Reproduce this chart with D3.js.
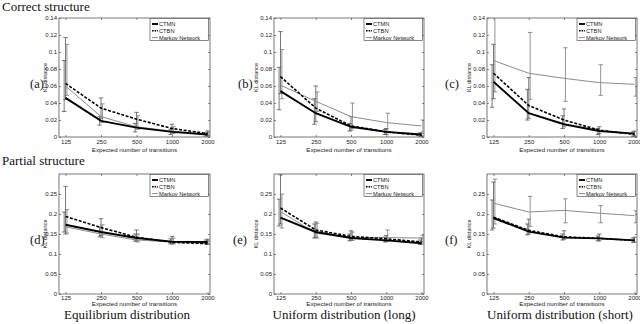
<!DOCTYPE html>
<html>
<head>
  <meta charset="utf-8">
  <title>KL distance vs expected number of transitions</title>
  <style>
  body { margin: 0; background: #fff; }
  .tick text { font-family: "Liberation Sans", Arial, sans-serif; font-size: 6px; fill: #222; }
  .tick line { stroke: #555; stroke-width: 0.7; }
  .serif { font-family: "Liberation Serif", "Times New Roman", serif; fill: #111; }
  .sans { font-family: "Liberation Sans", Arial, sans-serif; fill: #222; }
  </style>
</head>
<body>
<script src="https://cdnjs.cloudflare.com/ajax/libs/d3/7.8.5/d3.min.js"></script>
<script>
// x values and labels
var transitions = [125, 250, 500, 1000, 2000];
var seriesNames = ["CTMN", "CTBN", "Markov Network"];
var topYTicks = [0, 0.02, 0.04, 0.06, 0.08, 0.1, 0.12, 0.14];
var bottomYTicks = [0, 0.05, 0.1, 0.15, 0.2, 0.25];
var rowTitles = ["Correct structure", "Partial structure"];
var columnTitles = ["Equilibrium distribution", "Uniform distribution (long)", "Uniform distribution (short)"];

// (a) correct structure, equilibrium
var ctmnA = [0.046, 0.019, 0.011, 0.006, 0.003];
var ctbnA = [0.063, 0.034, 0.021, 0.010, 0.004];
var mnA   = [0.060, 0.024, 0.012, 0.007, 0.003];
var ctmnErrA = [[0.030, 0.090], [0.014, 0.024], [0.006, 0.016], [0.003, 0.009], [0.001, 0.005]];
var ctbnErrA = [[0.044, 0.117], [0.022, 0.046], [0.012, 0.029], [0.006, 0.015], [0.002, 0.007]];
var mnErrA   = [[0.049, 0.109], [0.017, 0.039], [0.009, 0.025], [0.004, 0.012], [0.001, 0.006]];

// (b) correct structure, uniform long
var ctmnB = [0.054, 0.028, 0.012, 0.006, 0.003];
var ctbnB = [0.071, 0.034, 0.013, 0.006, 0.002];
var mnB   = [0.061, 0.042, 0.024, 0.017, 0.013];
var ctmnErrB = [[0.032, 0.082], [0.015, 0.045], [0.007, 0.016], [0.003, 0.009], [0.001, 0.005]];
var ctbnErrB = [[0.051, 0.124], [0.018, 0.060], [0.008, 0.024], [0.003, 0.010], [0.001, 0.004]];
var mnErrB   = [[0.045, 0.103], [0.030, 0.053], [0.010, 0.040], [0.005, 0.028], [0.006, 0.020]];

// (c) correct structure, uniform short
var ctmnC = [0.065, 0.028, 0.015, 0.007, 0.004];
var ctbnC = [0.075, 0.037, 0.020, 0.008, 0.003];
var mnC   = [0.090, 0.075, 0.069, 0.064, 0.062];
var ctmnErrC = [[0.035, 0.085], [0.020, 0.056], [0.010, 0.025], [0.003, 0.010], [0.001, 0.006]];
var ctbnErrC = [[0.045, 0.109], [0.022, 0.070], [0.012, 0.033], [0.004, 0.012], [0.001, 0.007]];
var mnErrC   = [[0.053, 0.160], [0.044, 0.123], [0.042, 0.105], [0.049, 0.085], [0.048, 0.070]];

// (d) partial structure, equilibrium
var ctmnD = [0.173, 0.155, 0.140, 0.131, 0.130];
var ctbnD = [0.194, 0.166, 0.142, 0.129, 0.126];
var mnD   = [0.168, 0.150, 0.135, 0.130, 0.127];
var ctmnErrD = [[0.155, 0.205], [0.143, 0.168], [0.132, 0.150], [0.125, 0.138], [0.125, 0.135]];
var ctbnErrD = [[0.150, 0.269], [0.146, 0.188], [0.133, 0.160], [0.126, 0.144], [0.124, 0.137]];
var mnErrD   = [[0.152, 0.211], [0.141, 0.173], [0.130, 0.150], [0.125, 0.140], [0.124, 0.133]];

// (e) partial structure, uniform long
var ctmnE = [0.191, 0.155, 0.140, 0.134, 0.127];
var ctbnE = [0.215, 0.160, 0.144, 0.138, 0.130];
var mnE   = [0.206, 0.152, 0.141, 0.141, 0.140];
var ctmnErrE = [[0.170, 0.237], [0.140, 0.175], [0.133, 0.150], [0.130, 0.142], [0.124, 0.135]];
var ctbnErrE = [[0.175, 0.298], [0.142, 0.180], [0.135, 0.158], [0.131, 0.146], [0.125, 0.140]];
var mnErrE   = [[0.165, 0.250], [0.140, 0.177], [0.134, 0.155], [0.133, 0.160], [0.130, 0.146]];

// (f) partial structure, uniform short
var ctmnF = [0.190, 0.156, 0.141, 0.139, 0.134];
var ctbnF = [0.192, 0.159, 0.143, 0.139, 0.134];
var mnF   = [0.227, 0.205, 0.209, 0.202, 0.196];
var ctmnErrF = [[0.160, 0.235], [0.148, 0.175], [0.135, 0.150], [0.133, 0.145], [0.129, 0.140]];
var ctbnErrF = [[0.165, 0.280], [0.150, 0.187], [0.137, 0.158], [0.133, 0.150], [0.130, 0.142]];
var mnErrF   = [[0.175, 0.287], [0.169, 0.244], [0.178, 0.238], [0.178, 0.221], [0.178, 0.208]];

var panels = [
  {label: "(a)", row: 0, col: 0, labelX: 30,  lines: [ctmnA, ctbnA, mnA], errs: [ctmnErrA, ctbnErrA, mnErrA]},
  {label: "(b)", row: 0, col: 1, labelX: 238, lines: [ctmnB, ctbnB, mnB], errs: [ctmnErrB, ctbnErrB, mnErrB]},
  {label: "(c)", row: 0, col: 2, labelX: 445, lines: [ctmnC, ctbnC, mnC], errs: [ctmnErrC, ctbnErrC, mnErrC]},
  {label: "(d)", row: 1, col: 0, labelX: 30,  lines: [ctmnD, ctbnD, mnD], errs: [ctmnErrD, ctbnErrD, mnErrD]},
  {label: "(e)", row: 1, col: 1, labelX: 233, lines: [ctmnE, ctbnE, mnE], errs: [ctmnErrE, ctbnErrE, mnErrE]},
  {label: "(f)", row: 1, col: 2, labelX: 445, lines: [ctmnF, ctbnF, mnF], errs: [ctmnErrF, ctbnErrF, mnErrF]}
];

// layout
var colLeft = [59, 274, 487], colWidth = [151, 150, 150];
var yLabelOffset = [-12, -16, -16];
var rowTop = [18, 174], rowHeight = [119, 120];
var yMax = [0.14, 0.3], yTicks = [topYTicks, bottomYTicks];
var xTickPad = [2.7, 1.7], xLabelGap = [14.5, 11.5];

// line styles: CTMN, CTBN, Markov Network
var lineColor = ["#000", "#000", "#8c8c8c"];
var lineWidth = [1.9, 1.6, 1];
var lineDash = [null, "3,1.6", null];
var errOffset = [-1.4, 0, 1.4];

var fmt = function(d) { return d === 0 ? "0" : String(+d.toFixed(2)); };

var svg = d3.select("body").append("svg")
    .attr("width", 640)
    .attr("height", 324);

// row and column titles
svg.append("text").attr("class", "serif").attr("x", 2).attr("y", 10.5)
    .style("font-size", "13px").text(rowTitles[0]);
svg.append("text").attr("class", "serif").attr("x", 2).attr("y", 164.5)
    .style("font-size", "13px").text(rowTitles[1]);
[127, 344, 560].forEach(function(cx, i) {
  svg.append("text").attr("class", "serif").attr("x", cx).attr("y", 318.5)
      .attr("text-anchor", "middle").style("font-size", "13px").text(columnTitles[i]);
});

panels.forEach(function(p, pi) {
  var w = colWidth[p.col], h = rowHeight[p.row];
  var g = svg.append("g")
      .attr("transform", "translate(" + colLeft[p.col] + "," + rowTop[p.row] + ")");

  var x = d3.scaleLog().domain([110, 2100]).range([0, w]);
  var y = d3.scaleLinear().domain([0, yMax[p.row]]).range([h, 0]);

  // axes with inward ticks on all four sides
  g.append("g").attr("transform", "translate(0," + h + ")")
      .call(d3.axisBottom(x).tickValues(transitions).tickFormat(d3.format("d"))
        .tickSize(-2).tickPadding(xTickPad[p.row]));
  g.append("g")
      .call(d3.axisTop(x).tickValues(transitions).tickFormat("").tickSize(-2));
  g.append("g")
      .call(d3.axisLeft(y).tickValues(yTicks[p.row]).tickFormat(fmt).tickSize(-2).tickPadding(2));
  g.append("g").attr("transform", "translate(" + w + ",0)")
      .call(d3.axisRight(y).tickValues(yTicks[p.row]).tickFormat("").tickSize(-2));
  g.selectAll(".domain").remove();

  g.append("rect").attr("width", w).attr("height", h)
      .attr("fill", "none").attr("stroke", "#555").attr("stroke-width", 0.8);

  var clipId = "clip" + pi;
  g.append("clipPath").attr("id", clipId)
    .append("rect").attr("width", w).attr("height", h);
  var plot = g.append("g").attr("clip-path", "url(#" + clipId + ")");

  // error bars
  p.errs.forEach(function(errs, si) {
    var eb = plot.append("g").attr("stroke", si === 2 ? "#777" : "#555").attr("stroke-width", 0.8);
    errs.forEach(function(e, i) {
      var cx = x(transitions[i]) + errOffset[si];
      eb.append("line").attr("x1", cx).attr("x2", cx).attr("y1", y(e[0])).attr("y2", y(e[1]));
      eb.append("line").attr("x1", cx - 2.2).attr("x2", cx + 2.2).attr("y1", y(e[0])).attr("y2", y(e[0]));
      eb.append("line").attr("x1", cx - 2.2).attr("x2", cx + 2.2).attr("y1", y(e[1])).attr("y2", y(e[1]));
    });
  });

  // lines, Markov network first so the black ones sit on top
  var line = d3.line()
      .x(function(d, i) { return x(transitions[i]); })
      .y(function(d) { return y(d); });
  [2, 1, 0].forEach(function(si) {
    plot.append("path")
        .datum(p.lines[si])
        .attr("fill", "none")
        .attr("stroke", lineColor[si])
        .attr("stroke-width", lineWidth[si])
        .attr("stroke-dasharray", lineDash[si])
        .attr("d", line);
  });

  // axis labels
  g.append("text").attr("class", "sans")
      .attr("x", w / 2).attr("y", h + xLabelGap[p.row])
      .attr("text-anchor", "middle").style("font-size", "6.2px")
      .text("Expected number of transitions");
  g.append("text").attr("class", "sans")
      .attr("transform", "translate(" + yLabelOffset[p.col] + "," + (h / 2) + ") rotate(-90)")
      .attr("text-anchor", "middle").style("font-size", "5.6px")
      .text("KL distance");

  // panel label
  svg.append("text").attr("class", "serif")
      .attr("x", p.labelX).attr("y", rowTop[p.row] + h / 2 + 10)
      .style("font-size", "12.5px").text(p.label);

  // legend
  var lg = g.append("g").attr("transform", "translate(" + (w - 60) + ",0.5)");
  lg.append("rect").attr("width", 58.5).attr("height", 22)
      .attr("fill", "#fff").attr("stroke", "#555").attr("stroke-width", 0.7);
  seriesNames.forEach(function(name, si) {
    var ly = 5.5 + si * 6.8;
    lg.append("line").attr("x1", 2).attr("x2", 8).attr("y1", ly).attr("y2", ly)
        .attr("stroke", lineColor[si]).attr("stroke-width", lineWidth[si])
        .attr("stroke-dasharray", si === 1 ? "1.6,1" : null);
    lg.append("text").attr("class", "sans").attr("x", 9).attr("y", ly).attr("dy", "0.35em")
        .style("font-size", "5.7px").text(name);
  });
});
</script>
</body>
</html>
